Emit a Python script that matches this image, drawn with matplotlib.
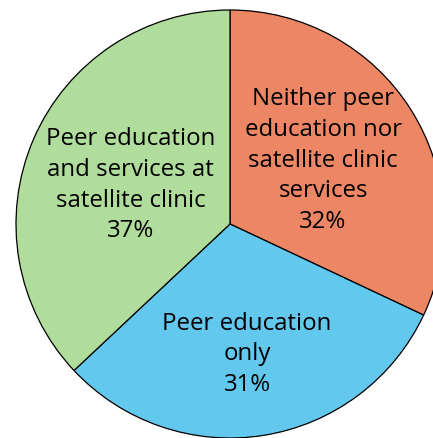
import matplotlib
matplotlib.use('Agg')
import matplotlib.pyplot as plt

labels = ['Neither peer\neducation nor\nsatellite clinic\nservices',
          'Peer education\nonly',
          'Peer education\nand services at\nsatellite clinic']
values = [32, 31, 37]
colors = ['#EC8665', '#63C8EE', '#B0DC9C']
# label anchor points (pie radius = 1)
label_pos = [(0.435, 0.30), (0.08, -0.605), (-0.465, 0.185)]

plt.rcParams['font.family'] = ['Open Sans', 'DejaVu Sans']

fig = plt.figure(figsize=(4.33, 4.39), dpi=100)
ax = fig.add_axes([0, 0, 1, 1])
ax.pie(values, colors=colors, startangle=90, counterclock=False,
       wedgeprops={'edgecolor': 'black', 'linewidth': 0.9})

for lab, v, (x, y) in zip(labels, values, label_pos):
    ax.text(x, y, '{}\n{}%'.format(lab, v), ha='center', va='center',
            fontsize=17.3, linespacing=1.37, color='black')

scale = 214.0
ax.set_xlim(-230 / scale, (433 - 230) / scale)
ax.set_ylim(-(439 - 225) / scale, 225 / scale)
ax.set_aspect('auto')
ax.axis('off')

fig.savefig('out.png', dpi=100)
